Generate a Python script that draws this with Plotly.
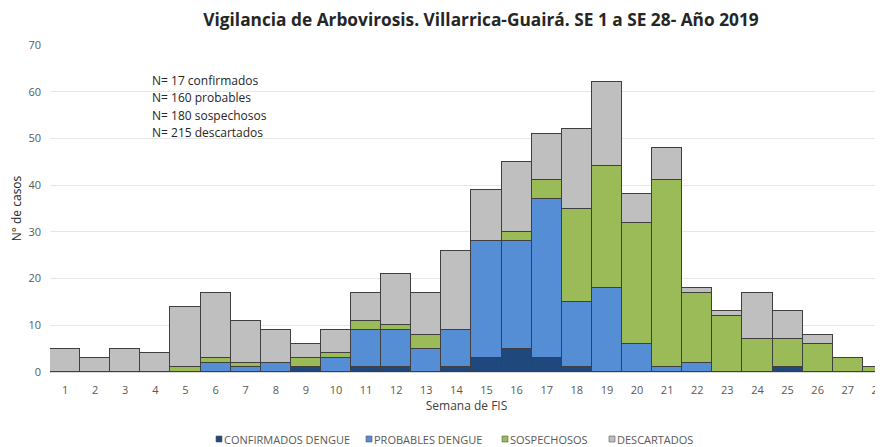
import plotly.graph_objects as go

semanas = list(range(1, 29))
confirmados = [0,0,0,0,0,0,0,0,1,0,1,1,0,1,3,5,3,1,0,0,0,0,0,0,1,0,0,0]
probables   = [0,0,0,0,0,2,1,2,0,3,8,8,5,8,25,23,34,14,18,6,1,2,0,0,0,0,0,0]
sospechosos = [0,0,0,0,1,1,1,0,2,1,2,1,3,0,0,2,4,20,26,26,40,15,12,7,6,6,3,1]
descartados = [5,3,5,4,13,14,9,7,3,5,6,11,9,17,11,15,10,17,18,6,7,1,1,10,6,2,0,0]
notas = ["N= 17 confirmados", "N= 160 probables", "N= 180 sospechosos", "N= 215 descartados"]
nombres = ["CONFIRMADOS DENGUE", "PROBABLES DENGUE", "SOSPECHOSOS", "DESCARTADOS"]
colores = ["#1F497D", "#558ED5", "#9BBB59", "#BFBFBF"]
valores = [confirmados, probables, sospechosos, descartados]

# page body has an 8px default margin: figure is placed at (8, 8) in the window
OFF = 8
W, H = 883 - OFF, 447 - OFF
PL, PR, PT, PB = 50, 883, 45, 372  # plot area in window pixels
L, T = PL - OFF, PT - OFF
R, B = 883 - PR, 447 - PB
pw, ph = PR - PL, PB - PT

def px(X):
    return (X - PL) / pw

def py(Y):
    return (PB - Y) / ph

fig = go.Figure()
for name, vals, col in zip(nombres, valores, colores):
    fig.add_trace(go.Bar(
        x=semanas, y=vals, name=name, showlegend=False,
        marker=dict(color=col, line=dict(color="#3f3f3f", width=1)),
    ))

fig.update_layout(
    barmode="stack", bargap=0,
    width=W, height=H,
    margin=dict(l=L, r=R, t=T, b=B, autoexpand=False),
    plot_bgcolor="white", paper_bgcolor="white",
    font=dict(family="Open Sans", size=11, color="#595959"),
    title=dict(
        text="<b>Vigilancia de Arbovirosis. Villarrica-Guairá. SE 1 a SE 28- Año 2019</b>",
        x=(481 - OFF) / W, xanchor="center", xref="container",
        y=1 - (20 - OFF) / H, yanchor="middle", yref="container",
        font=dict(family="Open Sans", size=17.3, color="#262626"),
    ),
    xaxis=dict(
        range=[0.5, 28.17], tickmode="array", tickvals=semanas,
        ticktext=[str(s) for s in semanas], showgrid=False, automargin=False,
        showline=True, linecolor="#d9d9d9", ticks="", ticklabelstandoff=8,
        ticklabeloverflow="allow",
        title=dict(text="Semana de FIS", font=dict(size=12, color="#404040"), standoff=4),
        tickfont=dict(size=11, color="#595959"),
    ),
    yaxis=dict(
        range=[0, 70], dtick=10, showgrid=True, gridcolor="#e6e6e6",
        zeroline=False, ticks="", automargin=False, ticklabelstandoff=8,
        title=dict(text="N° de casos", font=dict(size=12, color="#262626"), standoff=6),
        tickfont=dict(size=11, color="#595959"),
    ),
    showlegend=False,
)

for i, txt in enumerate(notas):
    fig.add_annotation(
        x=px(150), y=py(80 + 17.6 * i), xref="paper", yref="paper",
        text=txt, showarrow=False, align="left", xanchor="left", yanchor="middle",
        font=dict(size=12, color="#262626"),
    )

# manual legend (small squares + labels) below the axis title
leg_x = [216, 366, 502, 609]
leg_y = 439
for xs, name, col in zip(leg_x, nombres, colores):
    fig.add_shape(
        type="rect", xref="paper", yref="paper",
        x0=px(xs), x1=px(xs + 6), y0=py(leg_y + 3), y1=py(leg_y - 3),
        fillcolor=col, line=dict(color="#595959", width=0.6),
    )
    fig.add_annotation(
        x=px(xs + 6), y=py(leg_y), xref="paper", yref="paper",
        text=name, showarrow=False, xanchor="left", yanchor="middle",
        font=dict(size=11, color="#595959"),
    )

fig.write_html("out.html")
